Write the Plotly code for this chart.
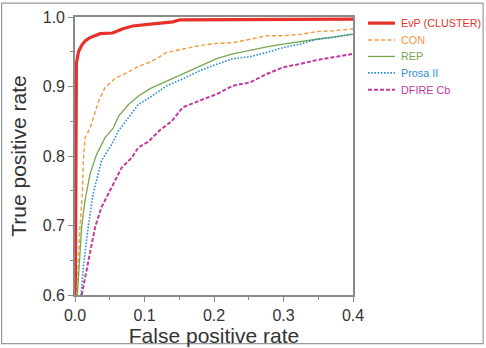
import plotly.graph_objects as go

names = ["EvP (CLUSTER)", "CON", "REP", "Prosa II", "DFIRE Cb"]
colors = ["#e8302a", "#f39a3e", "#76a84c", "#2e8fd1", "#c23a9e"]

evp_x = [0.0005, 0.001, 0.002, 0.005, 0.010, 0.015, 0.021, 0.036, 0.054, 0.069, 0.083, 0.112, 0.141, 0.151, 0.2, 0.26, 0.33, 0.4]
evp_y = [0.6, 0.85, 0.933, 0.950, 0.960, 0.966, 0.970, 0.976, 0.977, 0.983, 0.987, 0.990, 0.993, 0.996, 0.996, 0.997, 0.997, 0.997]

con_x = [0.0024, 0.0048, 0.0072, 0.0106, 0.012, 0.0144, 0.0216, 0.034, 0.043, 0.058, 0.077, 0.091, 0.108, 0.132, 0.155, 0.180, 0.204, 0.227, 0.252, 0.276, 0.299, 0.324, 0.348, 0.371, 0.4]
con_y = [0.6, 0.65, 0.698, 0.745, 0.793, 0.826, 0.840, 0.879, 0.898, 0.912, 0.921, 0.929, 0.935, 0.949, 0.954, 0.959, 0.962, 0.963, 0.968, 0.973, 0.973, 0.975, 0.979, 0.980, 0.983]

rep_x = [0.0034, 0.006, 0.0096, 0.0144, 0.0216, 0.031, 0.043, 0.055, 0.0625, 0.077, 0.091, 0.108, 0.132, 0.155, 0.180, 0.204, 0.227, 0.252, 0.276, 0.299, 0.324, 0.348, 0.371, 0.4]
rep_y = [0.6, 0.64, 0.698, 0.736, 0.774, 0.802, 0.826, 0.840, 0.857, 0.874, 0.886, 0.897, 0.908, 0.918, 0.930, 0.940, 0.947, 0.9525, 0.957, 0.961, 0.965, 0.968, 0.971, 0.975]

prosa_x = [0.0087, 0.012, 0.019, 0.026, 0.038, 0.053, 0.0625, 0.077, 0.091, 0.108, 0.132, 0.155, 0.180, 0.204, 0.227, 0.252, 0.276, 0.299, 0.324, 0.348, 0.371, 0.4]
prosa_y = [0.6, 0.64, 0.698, 0.745, 0.793, 0.817, 0.836, 0.855, 0.874, 0.8845, 0.901, 0.911, 0.923, 0.932, 0.940, 0.943, 0.949, 0.956, 0.961, 0.968, 0.9706, 0.976]

dfire_x = [0.0096, 0.019, 0.029, 0.038, 0.048, 0.058, 0.067, 0.082, 0.091, 0.106, 0.122, 0.139, 0.155, 0.180, 0.204, 0.227, 0.252, 0.276, 0.299, 0.324, 0.348, 0.371, 0.4]
dfire_y = [0.6, 0.65, 0.698, 0.726, 0.745, 0.764, 0.783, 0.798, 0.812, 0.821, 0.837, 0.85, 0.870, 0.880, 0.889, 0.901, 0.906, 0.918, 0.9275, 0.9325, 0.938, 0.942, 0.947]

x_ticks = [0.0, 0.1, 0.2, 0.3, 0.4]
y_ticks = [0.6, 0.7, 0.8, 0.9, 1.0]

series = [(evp_x, evp_y), (con_x, con_y), (rep_x, rep_y), (prosa_x, prosa_y), (dfire_x, dfire_y)]
widths = [3.2, 1.4, 1.3, 1.6, 2.0]
dashes = ["solid", "4px,2.5px", "solid", "1.6px,1.6px", "4px,2px"]

fig = go.Figure()
for (xs, ys), name, c, w, d in zip(series, names, colors, widths, dashes):
    fig.add_trace(go.Scatter(
        x=xs, y=ys, mode="lines", name=name, showlegend=False,
        line=dict(color=c, width=w, dash=d),
    ))

# manual legend (placed in paper coordinates to the right of the plot)
leg_y = [0.978, 0.917, 0.858, 0.799, 0.738]
for name, c, w, d, ly in zip(names, colors, widths, dashes, leg_y):
    fig.add_shape(type="line", xref="paper", yref="paper", x0=1.054, x1=1.151, y0=ly, y1=ly,
                  line=dict(color=c, width=w, dash=d))
    fig.add_annotation(xref="paper", yref="paper", x=1.166, y=ly, text=name, showarrow=False,
                       xanchor="left", yanchor="middle", font=dict(size=10.8, color=c))

axis_common = dict(
    showgrid=False, zeroline=False, showline=True, linecolor="#8a8a8a", linewidth=1.6,
    mirror=True, ticks="outside", ticklen=5, tickcolor="#8a8a8a", tickwidth=1,
    tickfont=dict(size=16, color="#333333"), tickformat=".1f", automargin=False,
)
fig.update_xaxes(range=[0, 0.4], tickvals=x_ticks,
                 minor=dict(dtick=0.05, ticks="outside", ticklen=3, tickcolor="#8a8a8a"),
                 title=dict(text="False positive rate", font=dict(size=21, color="#333333"), standoff=0),
                 **axis_common)
fig.update_yaxes(range=[0.6, 1.0], tickvals=y_ticks,
                 minor=dict(dtick=0.05, ticks="outside", ticklen=3, tickcolor="#8a8a8a"),
                 title=dict(text="True positive rate", font=dict(size=21, color="#333333"), standoff=10),
                 **axis_common)

fig.add_shape(type="rect", xref="paper", yref="paper", x0=-0.264, x1=1.468, y0=-0.175, y1=1.05,
              line=dict(color="#9a9a9a", width=1.2), fillcolor="rgba(0,0,0,0)", layer="below")

fig.update_layout(
    width=486, height=348,
    margin=dict(l=75, r=133, t=17, b=53),
    paper_bgcolor="white", plot_bgcolor="white",
    font=dict(family="Liberation Sans, Arial, sans-serif", color="#333333"),
    showlegend=False,
)

fig.write_html("out.html")
